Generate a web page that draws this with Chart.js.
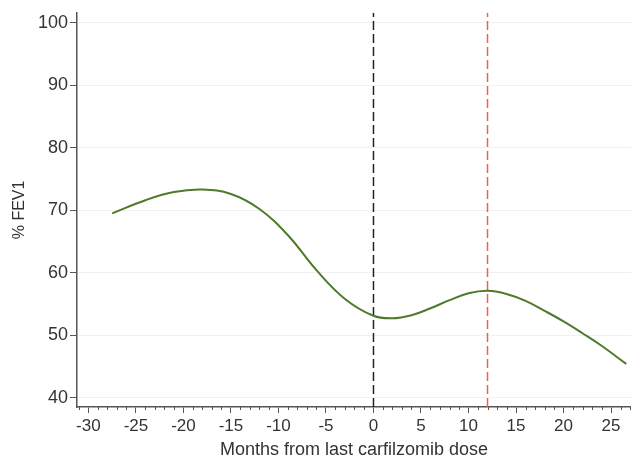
<!DOCTYPE html>
<html>
<head>
<meta charset="utf-8">
<script src="https://cdn.jsdelivr.net/npm/chart.js@4/dist/chart.umd.min.js"></script>
<style>
    html, body { margin: 0; padding: 0; background: #fff; }
    #wrap { width: 631px; height: 465px; position: relative; }
</style>
</head>
<body>
<div id="wrap"><canvas id="fevChart"></canvas></div>
<script>
// values
const months = [-27.5, -24, -21, -18, -15, -12, -9, -6, -3, 0, 2, 4, 6, 8, 10, 12, 14, 16, 18, 20, 22, 24, 26.6];
const fev1 = [69.5, 71.6, 72.9, 73.3, 72.6, 70.2, 66.0, 60.4, 55.8, 53.1, 52.7, 53.2, 54.3, 55.6, 56.7, 57.1, 56.6, 55.5, 53.9, 52.2, 50.3, 48.3, 45.4];

const xTicks = [-30, -25, -20, -15, -10, -5, 0, 5, 10, 15, 20, 25];
const yTicks = [40, 50, 60, 70, 80, 90, 100];
const lastDose = 0;
const oneYear = 12;

const axisColor = '#555555';
const fontFamily = '"Liberation Sans", Arial, sans-serif';

// minor ticks every month on the x axis
const minorTicks = {
    id: 'minorTicks',
    afterDraw(chart) {
        const x = chart.scales.x;
        const c = chart.ctx;
        c.save();
        c.strokeStyle = axisColor;
        c.lineWidth = 1;
        for (let m = -31; m <= 27; m++) {
            if (m % 5 === 0) continue;
            const px = Math.round(x.getPixelForValue(m)) + 0.5;
            c.beginPath();
            c.moveTo(px, x.top);
            c.lineTo(px, x.top + 3);
            c.stroke();
        }
        c.restore();
    }
};

const ctx = document.getElementById('fevChart').getContext('2d');
const fevChart = new Chart(ctx, {
    type: 'scatter',
    data: {
        datasets: [{
            label: '% FEV1',
            data: months.map((m, i) => ({ x: m, y: fev1[i] })),
            showLine: true,
            borderColor: '#4e7a2a',
            borderWidth: 2,
            pointRadius: 0,
            tension: 0.4
        }, {
            label: 'last dose',
            data: [{ x: lastDose, y: 38.5 }, { x: lastDose, y: 101.6 }],
            showLine: true,
            borderColor: '#222222',
            borderWidth: 1.5,
            borderDash: [9, 4],
            pointRadius: 0
        }, {
            label: '12 months',
            data: [{ x: oneYear, y: 38.5 }, { x: oneYear, y: 101.6 }],
            showLine: true,
            borderColor: '#f25c5c',
            borderWidth: 1.5,
            borderDash: [9, 4],
            pointRadius: 0
        }]
    },
    options: {
        responsive: true,
        maintainAspectRatio: false,
        animation: false,
        layout: {
            padding: { top: 12, right: 0, left: 0, bottom: 0 }
        },
        plugins: {
            legend: { display: false },
            tooltip: { enabled: false }
        },
        scales: {
            x: {
                type: 'linear',
                min: -31.2,
                max: 27.1,
                afterBuildTicks: (s) => { s.ticks = xTicks.map(v => ({ value: v })); },
                afterFit: (s) => { s.height = 58; },
                border: { color: axisColor, width: 1.5 },
                grid: {
                    drawOnChartArea: false,
                    drawTicks: true,
                    tickLength: 6,
                    tickColor: axisColor
                },
                ticks: {
                    color: '#333333',
                    padding: 3,
                    maxRotation: 0,
                    font: { family: fontFamily, size: 17 }
                },
                title: {
                    display: true,
                    text: 'Months from last carfilzomib dose',
                    color: '#333333',
                    padding: { top: 0, bottom: 4 },
                    font: { family: fontFamily, size: 18 }
                }
            },
            y: {
                min: 38.5,
                max: 101.6,
                afterBuildTicks: (s) => { s.ticks = yTicks.map(v => ({ value: v })); },
                afterFit: (s) => { s.width = 77; },
                border: { color: axisColor, width: 1.5 },
                grid: {
                    color: '#f0f0f0',
                    tickColor: axisColor,
                    tickLength: 7
                },
                ticks: {
                    color: '#333333',
                    padding: 2,
                    font: { family: fontFamily, size: 18 }
                },
                title: {
                    display: true,
                    text: '% FEV1',
                    color: '#333333',
                    padding: { top: 10, bottom: 0 },
                    font: { family: fontFamily, size: 16 }
                }
            }
        }
    },
    plugins: [minorTicks]
});
</script>
</body>
</html>
